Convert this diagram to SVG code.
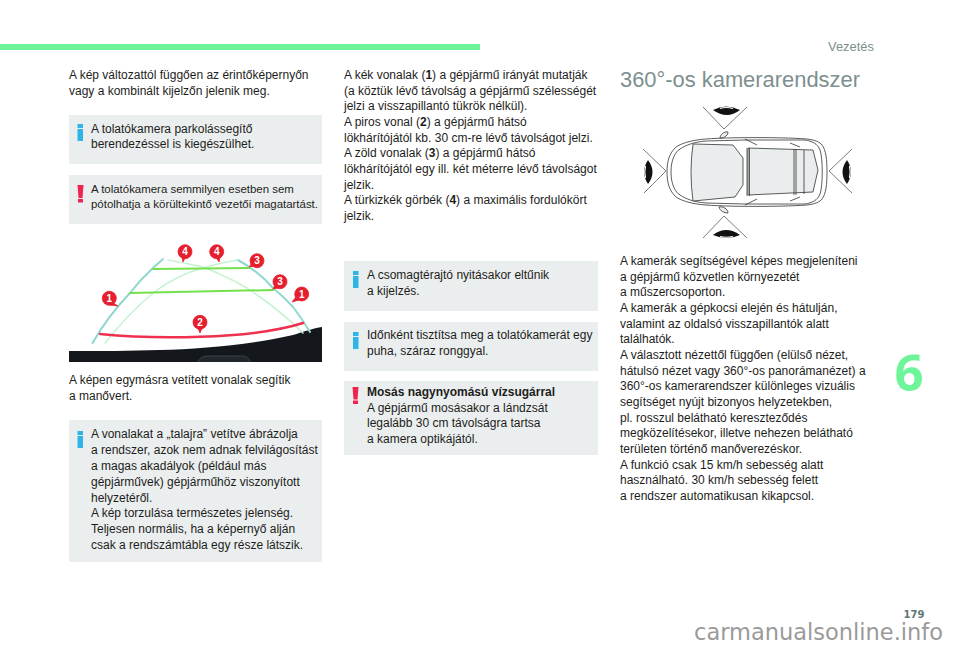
<svg xmlns="http://www.w3.org/2000/svg" width="960" height="649" viewBox="0 0 960 649">
<style>
text{font-family:"Liberation Sans",Arial,sans-serif;fill:#1d1d1b}
.b{font-size:12px}
.s{font-size:11.450px}
.box{fill:#ebeeee}
.bold{font-weight:bold}
.i{fill:#2fb5e5}
.x{fill:#f0234f}
.num{font-size:10px;font-weight:bold;fill:#fff;text-anchor:middle}
.pin{fill:#e5202e;stroke:#e5202e;stroke-width:.8}
.c{fill:none;stroke:#333;stroke-width:.8}
.g{fill:#e9eded;stroke:#333;stroke-width:.8}
.t{fill:none;stroke:#444;stroke-width:.7}
.e{fill:#111}
.w{fill:none;stroke:#fff;stroke-width:1.200}
</style>
<rect width="960" height="649" fill="#fff"/>
<rect x="0" y="44" width="480" height="6" fill="#6ef59a"/>
<text x="828" y="51" font-size="12.900" style="fill:#7d8f8f">Vezetés</text>

<g id="intro"><text class="b" x="69" y="79">A kép változattól függően az érintőképernyőn</text><text class="b" x="69" y="95">vagy a kombinált kijelzőn jelenik meg.</text></g>

<g id="note-1"><rect class="box" x="69" y="115" width="253" height="49"/><rect class="i" x="77.500" y="124" width="5.500" height="4"/><rect class="i" x="77.500" y="129" width="5.500" height="12"/>
<text class="b" x="91" y="133">A tolatókamera parkolássegítő</text><text class="b" x="91" y="148">berendezéssel is kiegészülhet.</text></g>

<g id="note-2"><rect class="box" x="69" y="175" width="253" height="49"/><path class="x" d="M77.500 185h6l-1 13h-4z"/><rect class="x" x="78" y="199" width="5" height="3.500"/>
<text class="s" x="91" y="193">A tolatókamera semmilyen esetben sem</text><text class="s" x="91" y="208">pótolhatja a körültekintő vezetői magatartást.</text></g>

<g id="camera-view">
<path d="M69 351C100 351 130 351 160 350C200 349 250 345 293 335C300 333 310 329 322 327V362H69Z" fill="#14181d"/>
<path d="M198 362C200 358 203 356 208 356H243C247 356 249 359 250 362" fill="#22272d" stroke="#4a5056" stroke-width=".7"/>
<g fill="none" stroke-linecap="round">
<path d="M92.500 343Q108 316 130 293Q140 280 153 268L163 259" stroke="#8fd8cd" stroke-width="2"/>
<path d="M238 260Q258 271 273 288Q284 297 293 307Q303 320 310 332" stroke="#8fd8cd" stroke-width="2"/>
<path d="M105 343Q128 314 153 293Q176 275 203 268Q220 263 237 260" stroke="#c4f2d2" stroke-width="1.500"/>
<path d="M168 260Q185 263 203 267Q228 277 247 288Q280 310 303 333" stroke="#c4f2d2" stroke-width="1.500"/>
<path d="M153 269L249 268" stroke="#74e04a" stroke-width="2"/>
<path d="M130 293L273 290" stroke="#74e04a" stroke-width="2"/>
<path d="M100 334C150 339 250 340 303 323" stroke="#f0304f" stroke-width="2.500"/>
</g>
<g id="callouts">
<g><path class="pin" d="M113 303L118 306L110 305Z"/><circle class="pin" cx="109.300" cy="298.300" r="7"/><text class="num" x="109.300" y="302">1</text></g>
<g><path class="pin" d="M182 257L183 262L185 258Z"/><circle class="pin" cx="185" cy="251.700" r="7"/><text class="num" x="185" y="255.400">4</text></g>
<g><path class="pin" d="M216 257L219 262L220 257Z"/><circle class="pin" cx="216.700" cy="251.700" r="7"/><text class="num" x="216.700" y="255.400">4</text></g>
<g><path class="pin" d="M252 263L249 267L255 266Z"/><circle class="pin" cx="257" cy="260.700" r="7"/><text class="num" x="257" y="264.400">3</text></g>
<g><path class="pin" d="M275 285L273 289L278 288Z"/><circle class="pin" cx="280" cy="281.700" r="7"/><text class="num" x="280" y="285.400">3</text></g>
<g><path class="pin" d="M296 297L292 302L299 300Z"/><circle class="pin" cx="301.700" cy="294" r="7"/><text class="num" x="301.700" y="297.700">1</text></g>
<g><path class="pin" d="M198 328L200 333L202 328Z"/><circle class="pin" cx="200" cy="322.300" r="7"/><text class="num" x="200" y="326">2</text></g>
</g>
</g>

<g id="caption"><text class="b" x="69" y="384">A képen egymásra vetített vonalak segítik</text><text class="b" x="69" y="400">a manővert.</text></g>

<g id="note-3"><rect class="box" x="69" y="420" width="253" height="142"/><rect class="i" x="77.500" y="431" width="5.500" height="4"/><rect class="i" x="77.500" y="436" width="5.500" height="12"/>
<text class="b" x="91" y="438">A vonalakat a „talajra” vetítve ábrázolja</text>
<text class="b" x="91" y="454">a rendszer, azok nem adnak felvilágosítást</text>
<text class="b" x="91" y="470">a magas akadályok (például más</text>
<text class="b" x="91" y="486">gépjárművek) gépjárműhöz viszonyított</text>
<text class="b" x="91" y="502">helyzetéről.</text>
<text class="b" x="91" y="517">A kép torzulása természetes jelenség.</text>
<text class="b" x="91" y="533">Teljesen normális, ha a képernyő alján</text>
<text class="b" x="91" y="549">csak a rendszámtábla egy része látszik.</text></g>

<g id="lines-text">
<text class="b" x="344" y="79">A kék vonalak (<tspan class="bold">1</tspan>) a gépjármű irányát mutatják</text>
<text class="b" x="344" y="95">(a köztük lévő távolság a gépjármű szélességét</text>
<text class="b" x="344" y="110">jelzi a visszapillantó tükrök nélkül).</text>
<text class="b" x="344" y="126">A piros vonal (<tspan class="bold">2</tspan>) a gépjármű hátsó</text>
<text class="b" x="344" y="142">lökhárítójától kb. 30 cm-re lévő távolságot jelzi.</text>
<text class="b" x="344" y="157">A zöld vonalak (<tspan class="bold">3</tspan>) a gépjármű hátsó</text>
<text class="b" x="344" y="173">lökhárítójától egy ill. két méterre lévő távolságot</text>
<text class="b" x="344" y="189">jelzik.</text>
<text class="b" x="344" y="204">A türkizkék görbék (<tspan class="bold">4</tspan>) a maximális fordulókört</text>
<text class="b" x="344" y="220">jelzik.</text>
</g>

<g id="note-4"><rect class="box" x="344" y="261" width="254" height="50"/><rect class="i" x="353" y="271" width="5.500" height="4"/><rect class="i" x="353" y="276" width="5.500" height="12"/>
<text class="b" x="367" y="279">A csomagtérajtó nyitásakor eltűnik</text><text class="b" x="367" y="295">a kijelzés.</text></g>

<g id="note-5"><rect class="box" x="344" y="322" width="254" height="49"/><rect class="i" x="353" y="332" width="5.500" height="4"/><rect class="i" x="353" y="337" width="5.500" height="12"/>
<text class="b" x="367" y="339">Időnként tisztítsa meg a tolatókamerát egy</text><text class="b" x="367" y="355">puha, száraz ronggyal.</text></g>

<g id="note-6"><rect class="box" x="344" y="381" width="254" height="74"/><path class="x" d="M352.500 387h6l-1 12.500h-4z"/><rect class="x" x="353" y="400.500" width="5" height="3.500"/>
<text class="b bold" x="367" y="396">Mosás nagynyomású vízsugárral</text>
<text class="b" x="367" y="412">A gépjármű mosásakor a lándzsát</text>
<text class="b" x="367" y="427">legalább 30 cm távolságra tartsa</text>
<text class="b" x="367" y="443">a kamera optikájától.</text></g>

<text x="620" y="87" font-size="21.900" style="fill:#7d8f8f">360°-os kamerarendszer</text>

<g id="car-diagram">
<path class="c" d="M697 140C715 137 780 137 807 139C815 140 820 142 822 145C826 150 827 160 827 172C827 184 826 194 822 199C820 202 815 204 807 205C780 207 715 207 697 204C685 202 678 199 675 196C669 190 667 182 667 172C667 162 669 154 675 148C678 145 685 142 697 140Z"/>
<path class="c" d="M671 172C671 160 675 152 680 149C686 145 694 142 706 141L745 140H805C812 141 818 144 820 150C823 158 823 186 820 194C818 200 812 203 805 204H745L706 203C694 202 686 199 680 195C675 192 671 184 671 172Z"/>
<path class="g" d="M693 144L733 145L743 158V185L735 197L693 201Q689 172 693 144Z"/>
<path class="g" d="M748 148L813 150L818 170L813 192L748 195Z"/>
<path class="c" d="M747 148V196M749.500 148V196M794 149V195M796 149V195M804 150V194M745 139L757 145M745 205L757 199M790 143L800 147M790 201L800 197"/>
<path class="g" d="M720 138C720 135 724 131 728 132C728 135 725 138 720 138Z"/>
<path class="g" d="M719 207C723 206 728 209 728 213C724 213 720 211 719 207Z"/>
<path class="t" d="M703 107L724 129L747 107M703 238L724 216L747 238M643 149L666 171L644 193M852 149L829 171L852 193"/>
<path class="e" d="M713 110Q726 103 740 110Q727 120 713 110Z"/>
<path class="w" d="M720 108.500Q726 106.500 733 108.500"/>
<path class="e" d="M713 235Q726 225 740 235Q727 241 713 235Z"/>
<path class="w" d="M720 236.500Q726 238 733 236.500"/>
<path class="e" d="M648 160Q657 172 648 184Q640 172 648 160Z"/>
<path class="w" d="M645.500 166Q644 172 645.500 178"/>
<path class="e" d="M847 160Q855 172 847 184Q838 172 847 160Z"/>
<path class="w" d="M849.500 166Q851 172 849.500 178"/>
</g>

<g id="camera-text">
<text class="b" x="620" y="265">A kamerák segítségével képes megjeleníteni</text>
<text class="b" x="620" y="281">a gépjármű közvetlen környezetét</text>
<text class="b" x="620" y="296">a műszercsoporton.</text>
<text class="b" x="620" y="312">A kamerák a gépkocsi elején és hátulján,</text>
<text class="b" x="620" y="328">valamint az oldalsó visszapillantók alatt</text>
<text class="b" x="620" y="343">találhatók.</text>
<text class="b" x="620" y="359">A választott nézettől függően (elülső nézet,</text>
<text class="b" x="620" y="375">hátulsó nézet vagy 360°-os panorámanézet) a</text>
<text class="b" x="620" y="390">360°-os kamerarendszer különleges vizuális</text>
<text class="b" x="620" y="406">segítséget nyújt bizonyos helyzetekben,</text>
<text class="b" x="620" y="422">pl. rosszul belátható kereszteződés</text>
<text class="b" x="620" y="437">megközelítésekor, illetve nehezen belátható</text>
<text class="b" x="620" y="453">területen történő manőverezéskor.</text>
<text class="b" x="620" y="469">A funkció csak 15 km/h sebesség alatt</text>
<text class="b" x="620" y="484">használható. 30 km/h sebesség felett</text>
<text class="b" x="620" y="500">a rendszer automatikusan kikapcsol.</text>
</g>

<text x="909" y="391" font-size="51" font-weight="bold" text-anchor="middle" style="font-family:'Open Sans','DejaVu Sans',sans-serif;fill:#6ef59a">6</text>
<text x="914" y="618" font-size="10" font-weight="bold" text-anchor="middle" style="font-family:'DejaVu Sans',sans-serif;fill:#5f7578">179</text>
<text x="943" y="640" font-size="22.500" text-anchor="end" style="font-family:'DejaVu Sans',sans-serif;fill:#9a9a9a">carmanualsonline.info</text>
</svg>
